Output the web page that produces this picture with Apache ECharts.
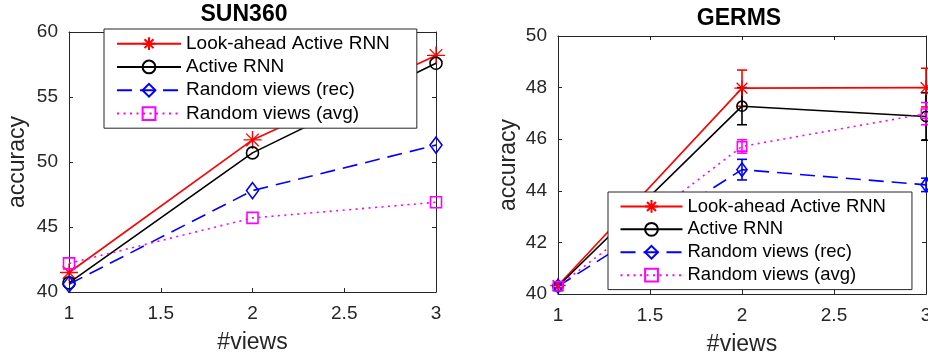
<!DOCTYPE html>
<html>
<head>
<meta charset="utf-8">
<script src="https://cdn.jsdelivr.net/npm/echarts@6/dist/echarts.min.js"></script>
<style>
html,body{margin:0;padding:0;background:#fff;}
#chart{width:928px;height:354px;}
</style>
</head>
<body>
<div id="chart"></div>
<script>
// ---- data ----
const views = [1, 2, 3];
const seriesNames = ['Look-ahead Active RNN', 'Active RNN', 'Random views (rec)', 'Random views (avg)'];

// SUN360
const sunLookahead = [41.5, 51.7, 58.2];
const sunActive    = [40.7, 50.7, 57.6];
const sunRec       = [40.6, 47.8, 51.3];
const sunAvg       = [42.2, 45.7, 46.9];

// GERMS
const germsLookahead = [40.33, 47.98, 48.0];
const germsActive    = [40.3, 47.28, 46.88];
const germsRec       = [40.3, 44.82, 44.23];
const germsAvg       = [40.3, 45.72, 46.99];
// GERMS error bar half-widths
const germsLookaheadErr = [0.08, 0.70, 0.75];
const germsActiveErr    = [0.08, 0.72, 0.92];
const germsRecErr       = [0.08, 0.40, 0.26];
const germsAvgErr       = [0.08, 0.26, 0.43];

// tick labels
const sunYTicks = {min: 40, max: 60, interval: 5};
const germsYTicks = {min: 40, max: 50, interval: 2};
const xTicks = {min: 1, max: 3, interval: 0.5};

// ---- styles ----
const FONT = "'Liberation Sans', Arial, Helvetica, sans-serif";
const AX = '#262626';
const starPath = 'path://M10,0 L10,20 M0,10 L20,10 M3,3 L17,17 M3,17 L17,3';
const styles = [
  {color: '#ff0000', symbol: starPath, size: 18, type: 'solid', bw: 1.3},
  {color: '#000000', symbol: 'circle', size: 12, type: 'solid', bw: 1.6},
  {color: '#0000ff', symbol: 'diamond', size: [12, 16], type: [15, 8], bw: 1.6},
  {color: '#ff00ff', symbol: 'rect', size: 11, type: [2, 4.5], bw: 1.6}
];

function lineSeries(i, data, xi, yi, scale) {
  const s = styles[i];
  let size = s.size;
  if (scale !== 1) size = Array.isArray(size) ? size.map(v => v * scale) : size * scale;
  return {
    type: 'line', name: seriesNames[i], xAxisIndex: xi, yAxisIndex: yi,
    data: views.map((x, k) => [x, data[k]]),
    symbol: s.symbol, symbolSize: size, showSymbol: true, clip: false,
    lineStyle: {color: s.color, width: 1.6, type: s.type},
    itemStyle: {color: 'rgba(0,0,0,0)', borderColor: s.color, borderWidth: s.bw},
    emphasis: {disabled: true}, animation: false, z: 2 + i * 0.01
  };
}

function errSeries(i, vals, errs, xi, yi) {
  const color = styles[i].color;
  return {
    type: 'custom', name: 'err' + i, xAxisIndex: xi, yAxisIndex: yi,
    data: views.map((x, k) => [x, vals[k] - errs[k], vals[k] + errs[k]]),
    renderItem: function (params, api) {
      const x = api.value(0);
      const p1 = api.coord([x, api.value(1)]);
      const p2 = api.coord([x, api.value(2)]);
      const w = 5;
      const st = {stroke: color, lineWidth: 1.6};
      return {type: 'group', children: [
        {type: 'line', shape: {x1: p1[0], y1: p1[1], x2: p2[0], y2: p2[1]}, style: st},
        {type: 'line', shape: {x1: p1[0] - w, y1: p1[1], x2: p1[0] + w, y2: p1[1]}, style: st},
        {type: 'line', shape: {x1: p2[0] - w, y1: p2[1], x2: p2[0] + w, y2: p2[1]}, style: st}
      ]};
    },
    silent: true, animation: false, z: 2
  };
}

function xAxisDef(gi, pos, labels, name) {
  return Object.assign({
    type: 'value', gridIndex: gi, position: pos,
    axisLine: {show: true, onZero: false, lineStyle: {color: AX, width: 1}},
    axisTick: {show: true, inside: true, length: 4, lineStyle: {color: AX}},
    axisLabel: {show: labels, color: AX, fontSize: 19, fontFamily: FONT, margin: 12},
    splitLine: {show: false},
    name: labels ? name : '', nameLocation: 'middle', nameGap: 39,
    nameTextStyle: {color: AX, fontSize: 23, fontFamily: FONT}
  }, xTicks);
}
function yAxisDef(gi, pos, labels, ticks, gap) {
  return Object.assign({
    type: 'value', gridIndex: gi, position: pos,
    axisLine: {show: true, onZero: false, lineStyle: {color: AX, width: 1}},
    axisTick: {show: true, inside: true, length: 4, lineStyle: {color: AX}},
    axisLabel: {show: labels, color: AX, fontSize: 19, fontFamily: FONT, margin: 11},
    splitLine: {show: false},
    name: labels ? 'accuracy' : '', nameLocation: 'middle', nameGap: gap,
    nameTextStyle: {color: AX, fontSize: 23, fontFamily: FONT}
  }, ticks);
}

function legendDef(left, top, pad, itemW, lh, fs) {
  return {
    data: seriesNames, orient: 'vertical', left: left, top: top,
    padding: pad, itemWidth: itemW, itemHeight: 16, itemGap: 0,
    backgroundColor: '#ffffff', borderColor: AX, borderWidth: 1, borderRadius: 0,
    selectedMode: false,
    textStyle: {color: '#000', fontSize: fs, fontFamily: FONT, lineHeight: lh},
    z: 10
  };
}

const chart = echarts.init(document.getElementById('chart'), null, {renderer: 'canvas'});
chart.setOption({
  animation: false,
  backgroundColor: '#ffffff',
  title: [
    {text: 'SUN360', left: 244, top: 3, textAlign: 'center', padding: 0,
     textStyle: {fontSize: 23, fontWeight: 'bold', color: '#000', fontFamily: FONT}},
    {text: 'GERMS', left: 739, top: 7, textAlign: 'center', padding: 0,
     textStyle: {fontSize: 23, fontWeight: 'bold', color: '#000', fontFamily: FONT}}
  ],
  grid: [
    {left: 69, top: 32, width: 367, height: 260, containLabel: false, outerBoundsMode: 'none'},
    {left: 558, top: 36, width: 368, height: 258, containLabel: false, outerBoundsMode: 'none'}
  ],
  xAxis: [
    xAxisDef(0, 'bottom', true, '#views'),
    xAxisDef(0, 'top', false, ''),
    xAxisDef(1, 'bottom', true, '#views'),
    xAxisDef(1, 'top', false, '')
  ],
  yAxis: [
    yAxisDef(0, 'left', true, sunYTicks, 40),
    yAxisDef(0, 'right', false, sunYTicks, 40),
    yAxisDef(1, 'left', true, germsYTicks, 38),
    yAxisDef(1, 'right', false, germsYTicks, 38)
  ],
  legend: [
    legendDef(104, 29, [3, 27, 3, 12], 64, 23.3, 19),
    legendDef(608, 192, [3, 26, 3, 11.5], 62, 22.9, 18.5)
  ],
  series: [
    lineSeries(0, sunLookahead, 0, 0, 1),
    lineSeries(1, sunActive, 0, 0, 1),
    lineSeries(2, sunRec, 0, 0, 1),
    lineSeries(3, sunAvg, 0, 0, 1),
    errSeries(0, germsLookahead, germsLookaheadErr, 2, 2),
    errSeries(1, germsActive, germsActiveErr, 2, 2),
    errSeries(2, germsRec, germsRecErr, 2, 2),
    errSeries(3, germsAvg, germsAvgErr, 2, 2),
    lineSeries(0, germsLookahead, 2, 2, 0.85),
    lineSeries(1, germsActive, 2, 2, 0.85),
    lineSeries(2, germsRec, 2, 2, 0.85),
    lineSeries(3, germsAvg, 2, 2, 0.85)
  ]
});
</script>
</body>
</html>
